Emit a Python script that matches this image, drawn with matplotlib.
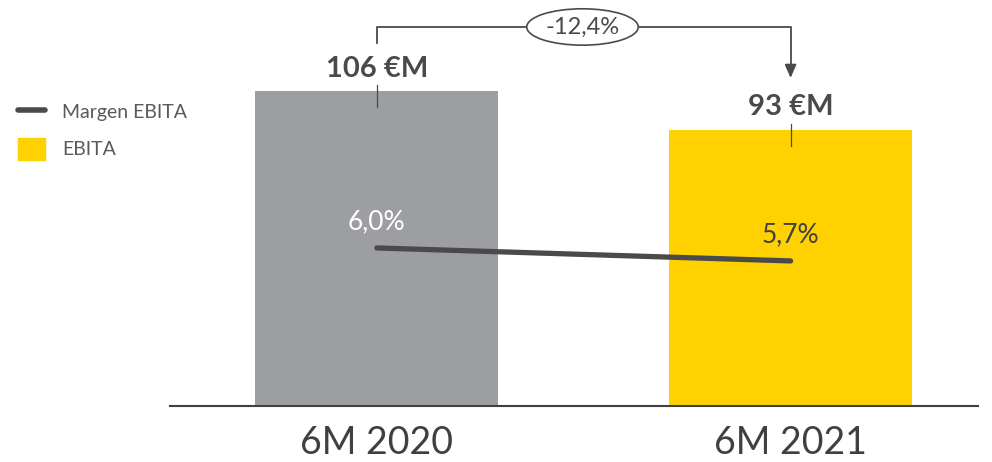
import matplotlib
matplotlib.use("Agg")
import matplotlib.pyplot as plt
from matplotlib.lines import Line2D
from matplotlib.patches import Patch

# data
periods = ["6M 2020", "6M 2021"]
ebita = [106, 93]
ebita_labels = ["106 €M", "93 €M"]
margin = [6.0, 5.7]
margin_labels = ["6,0%", "5,7%"]
change_label = "-12,4%"

barColors = ["#9D9EA2", "#FFD100"]
dark = "#4A4A4A"
textGray = "#595959"

plt.rcParams['font.family'] = ['Lato', 'DejaVu Sans']

fig = plt.figure(figsize=(9.92, 4.62), dpi=100)
ax = fig.add_axes([170/992, 56/462, 808/992, 401/462])

x = list(range(len(periods)))
ax.bar(x, ebita, width=0.587, color=barColors, zorder=2)
ax.set_xlim(-0.5, 1.453)
ax.set_ylim(0, 135)

for s in ["top", "right", "left"]:
    ax.spines[s].set_visible(False)
ax.spines["bottom"].set_color("#404040")
ax.spines["bottom"].set_linewidth(1.5)
ax.set_yticks([])
ax.set_xticks(x)
ax.set_xticklabels(periods, fontsize=27, color="#404040", fontweight="normal")
ax.tick_params(axis="x", length=0, pad=14)

# value labels with small marker lines
for i, v in enumerate(ebita):
    ax.text(i, v + 7.5, ebita_labels[i], ha="center", va="center",
            fontsize=21, fontweight="bold", color=dark)
    ax.plot([i, i], [v + 2, v - 5.4], color=dark, lw=0.9, zorder=3)

# margin line on secondary axis
ax2 = ax.twinx()
ax2.set_ylim(2.35, 11.61)
ax2.axis("off")
ax2.plot(x, margin, color=dark, lw=3.8, solid_capstyle="round", zorder=4)
ax2.text(0, margin[0] + 0.6, margin_labels[0], ha="center", va="center",
         fontsize=19, color="white", fontweight="normal")
ax2.text(1, margin[1] + 0.6, margin_labels[1], ha="center", va="center",
         fontsize=19, color="#404040", fontweight="normal")

# change bracket
yTop = 127.6
ax.plot([0, 0, 1, 1], [122.2, yTop, yTop, 112], color=dark, lw=1.3,
        clip_on=False, zorder=3)
ax.annotate("", xy=(1, 109.5), xytext=(1, 113), clip_on=False,
            arrowprops=dict(arrowstyle="-|>,head_width=0.35,head_length=0.8",
                            color=dark, lw=1.3))
ax.text(0.497, yTop, change_label, ha="center", va="center", fontsize=17,
        color=dark, fontweight="normal",
        bbox=dict(boxstyle="ellipse,pad=0.1", fc="white", ec=dark, lw=1.2))

handles = [Line2D([0], [0], color=dark, lw=4, solid_capstyle="round"),
           Patch(color=barColors[1])]
fig.legend(handles, ["Margen EBITA", "EBITA"], loc="upper left",
           bbox_to_anchor=(0.0, 0.82), frameon=False, fontsize=14,
           handlelength=1.4, handleheight=1.4, handletextpad=0.9,
           labelcolor=textGray, labelspacing=0.75)

fig.savefig("out.png", dpi=100)
